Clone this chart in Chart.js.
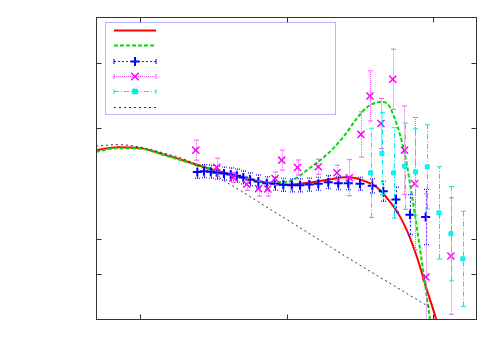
<!DOCTYPE html>
<html>
<head>
<meta charset="utf-8">
<script src="https://cdn.jsdelivr.net/npm/chart.js@4/dist/chart.umd.min.js"></script>
<style>
  html, body { margin: 0; padding: 0; background: #fff; }
  #wrap { width: 500px; height: 350px; }
</style>
</head>
<body>
<div id="wrap"><canvas id="myChart"></canvas></div>
<script>
// tick positions (log x, linear y) - labels are not shown in the original
const xTicks = [1, 10, 100];
const yTicks = [4.6, 8.1, 19.1, 25.6];

// smooth curves, all sampled on the same x grid
const curveX = [0.5, 0.7, 1, 1.5, 2, 3, 4, 5, 7, 10, 15, 20, 25, 30, 35, 40, 45, 50, 55, 60, 65, 70, 75, 80, 85, 90, 95, 100, 110];
const redY = [16.93, 17.23, 17.13, 16.43, 15.88, 15.08, 14.58, 14.23, 13.73, 13.48, 13.73, 14.03, 14.23, 14.13, 13.78, 13.38, 12.73, 11.93, 11.13, 10.23, 9.23, 8.13, 6.93, 5.73, 4.43, 3.23, 2.13, 1.13, -0.87];
const greenY = [16.78, 17.13, 17.08, 16.38, 15.83, 15.03, 14.53, 14.18, 13.73, 13.78, 15.33, 16.83, 18.43, 20.03, 21.13, 21.63, 21.73, 21.38, 20.03, 18.33, 16.23, 13.43, 10.73, 7.93, 5.33, 2.73, 0.23, -2.07, -6.57];
const blackY = [17.33, 17.48, 17.23, 16.58, 16.03, 14.78, 13.63, 12.78, 11.43, 10.03, 8.43, 7.28, 6.38, 5.68, 5.09, 4.58, 4.13, 3.73, 3.36, 3.03, 2.73, 2.43, 2.18, 1.93, 1.70, 1.48, 1.28, 1.03, null];

// points with error bars
const blueX = [2.46, 2.73, 3.04, 3.37, 3.74, 4.16, 4.57, 5.07, 5.63, 6.42, 7.33, 8.35, 9.51, 10.85, 12.37, 14.31, 16.49, 19.29, 22.57, 26.42, 31.75, 38.52, 45.79, 55.90, 69.66, 89.18];
const blueY = [14.76, 14.83, 14.78, 14.68, 14.60, 14.51, 14.38, 14.21, 14.01, 13.81, 13.63, 13.58, 13.48, 13.43, 13.43, 13.50, 13.58, 13.73, 13.63, 13.63, 13.58, 13.38, 12.83, 12.00, 10.50, 10.26];
const blueErr = [0.65, 0.65, 0.65, 0.65, 0.65, 0.65, 0.65, 0.65, 0.65, 0.65, 0.65, 0.65, 0.65, 0.65, 0.65, 0.65, 0.65, 0.65, 0.65, 0.65, 0.65, 0.7, 1.0, 1.25, 2.0, 2.75];

const magX = [2.40, 3.34, 4.33, 5.35, 6.44, 7.44, 8.35, 9.27, 11.89, 16.49, 22.12, 26.84, 32.25, 37.15, 44.17, 53.16, 63.90, 75.01, 89.6, 132.7];
const magY = [16.93, 15.23, 14.21, 13.53, 13.10, 13.06, 14.10, 15.93, 15.20, 15.28, 14.68, 14.18, 18.50, 22.33, 19.58, 24.00, 16.93, 13.58, 4.28, 6.38];
const magErr = [1.0, 0.9, 0.5, 0.6, 0.75, 0.7, 0.65, 1.0, 0.75, 0.75, 0.75, 1.8, 2.25, 2.5, 2.5, 3.0, 4.4, 6.6, 8.3, 5.8];

const cyanX = [37.56, 44.87, 53.91, 64.09, 75.93, 91.44, 109.9, 132.7, 160.2];
const cyanY = [14.66, 16.60, 14.66, 15.33, 14.76, 15.26, 10.68, 8.60, 6.10];
const cyanErr = [4.45, 4.1, 4.5, 4.3, 4.3, 4.2, 4.6, 4.7, 4.75];

function pts(xs, ys) {
  return xs.map((x, i) => ({ x: x, y: ys[i] }));
}

function drawMark(ctx, style, x, y, r, color, lw) {
  ctx.save();
  ctx.setLineDash([]);
  ctx.strokeStyle = color;
  ctx.fillStyle = color;
  ctx.lineWidth = lw;
  ctx.beginPath();
  if (style === 'cross') {
    ctx.moveTo(x - r, y); ctx.lineTo(x + r, y);
    ctx.moveTo(x, y - r); ctx.lineTo(x, y + r);
    ctx.stroke();
  } else if (style === 'crossRot') {
    const d = r * 0.75;
    ctx.moveTo(x - d, y - d); ctx.lineTo(x + d, y + d);
    ctx.moveTo(x - d, y + d); ctx.lineTo(x + d, y - d);
    ctx.stroke();
  } else if (style === 'rect') {
    ctx.fillRect(x - r, y - r, 2 * r, 2 * r);
  }
  ctx.restore();
}

const gnuplotLook = {
  id: 'gnuplotLook',
  beforeDatasetDraw(chart, args) {
    const ds = chart.data.datasets[args.index];
    if (!ds.errorBars) return;
    const ctx = chart.ctx, ca = chart.chartArea;
    const xs = chart.scales.x, ys = chart.scales.y;
    ctx.save();
    ctx.beginPath();
    ctx.rect(ca.left, ca.top, ca.right - ca.left, ca.bottom - ca.top);
    ctx.clip();
    ctx.strokeStyle = ds.errColor;
    ctx.lineWidth = ds.errWidth;
    ds.data.forEach((p, i) => {
      const e = ds.errorBars[i];
      const px = Math.round(xs.getPixelForValue(p.x)) + 0.5;
      const y1 = ys.getPixelForValue(p.y - e);
      const y2 = ys.getPixelForValue(p.y + e);
      ctx.setLineDash(ds.errDash);
      ctx.beginPath();
      ctx.moveTo(px, y1); ctx.lineTo(px, y2);
      ctx.stroke();
      ctx.setLineDash(ds.capDash || []);
      ctx.beginPath();
      ctx.moveTo(px - 2.5, y1); ctx.lineTo(px + 2.5, y1);
      ctx.moveTo(px - 2.5, y2); ctx.lineTo(px + 2.5, y2);
      ctx.stroke();
    });
    ctx.restore();
  },
  afterDatasetsDraw(chart) {
    const ctx = chart.ctx, ca = chart.chartArea;
    const xs = chart.scales.x, ys = chart.scales.y;
    const L = ca.left + 0.5, R = ca.right - 0.5, T = ca.top + 0.5, B = ca.bottom - 0.5;
    const tl = 5;
    ctx.save();
    ctx.strokeStyle = '#333';
    ctx.lineWidth = 1;
    ctx.setLineDash([]);
    ctx.strokeRect(L, T, R - L, B - T);
    ctx.beginPath();
    xTicks.forEach(v => {
      const px = Math.round(xs.getPixelForValue(v)) + 0.5;
      ctx.moveTo(px, B); ctx.lineTo(px, B - tl);
      ctx.moveTo(px, T); ctx.lineTo(px, T + tl);
    });
    yTicks.forEach(v => {
      const py = Math.round(ys.getPixelForValue(v)) + 0.5;
      ctx.moveTo(L, py); ctx.lineTo(L + tl, py);
      ctx.moveTo(R, py); ctx.lineTo(R - tl, py);
    });
    ctx.stroke();

    // key box, no text in the original
    const bx = ca.left + 9, by = ca.top + 5, bw = 230, bh = 92;
    ctx.strokeStyle = '#6b6bff';
    ctx.setLineDash([1, 1]);
    ctx.strokeRect(bx + 0.5, by + 0.5, bw, bh);
    const x1 = bx + 9, x2 = bx + 51, xm = (x1 + x2) / 2;
    chart.data.datasets.forEach((ds, i) => {
      const y = Math.round(by + 8 + i * 15.33) + 0.5;
      ctx.save();
      if (ds.errorBars) {
        ctx.strokeStyle = ds.errColor;
        ctx.lineWidth = ds.errWidth;
        ctx.setLineDash(ds.errDash);
        ctx.beginPath(); ctx.moveTo(x1, y); ctx.lineTo(x2, y); ctx.stroke();
        ctx.setLineDash([]);
        ctx.beginPath();
        ctx.moveTo(x1, y - 2.5); ctx.lineTo(x1, y + 2.5);
        ctx.moveTo(x2, y - 2.5); ctx.lineTo(x2, y + 2.5);
        ctx.stroke();
        drawMark(ctx, ds.pointStyle, xm, y, ds.pointRadius, ds.pointBorderColor, ds.pointBorderWidth);
      } else {
        ctx.strokeStyle = ds.borderColor;
        ctx.lineWidth = ds.borderWidth;
        ctx.setLineDash(ds.borderDash || []);
        ctx.beginPath(); ctx.moveTo(x1, y); ctx.lineTo(x2, y); ctx.stroke();
      }
      ctx.restore();
    });
    ctx.restore();
  }
};

const ctx = document.getElementById('myChart');

new Chart(ctx, {
  type: 'line',
  data: {
    datasets: [
      {
        data: pts(curveX, redY),
        borderColor: '#ff0000',
        borderWidth: 2,
        pointRadius: 0,
        cubicInterpolationMode: 'monotone',
        order: 6
      },
      {
        data: pts(curveX, greenY),
        borderColor: '#00dd00',
        borderWidth: 2,
        borderDash: [4, 2],
        pointRadius: 0,
        cubicInterpolationMode: 'monotone',
        order: 5
      },
      {
        data: pts(blueX, blueY),
        showLine: false,
        pointStyle: 'cross',
        pointRadius: 4.5,
        pointBorderWidth: 2,
        pointBorderColor: '#0000ff',
        pointBackgroundColor: '#0000ff',
        errorBars: blueErr,
        errColor: '#2020ff',
        errWidth: 1.2,
        errDash: [2, 2],
        capDash: [1, 1],
        order: 4
      },
      {
        data: pts(magX, magY),
        showLine: false,
        pointStyle: 'crossRot',
        pointRadius: 5,
        pointBorderWidth: 1.5,
        pointBorderColor: '#ff00ff',
        pointBackgroundColor: '#ff00ff',
        errorBars: magErr,
        errColor: '#ff50ff',
        errWidth: 1,
        errDash: [1, 1],
        order: 3
      },
      {
        data: pts(cyanX, cyanY),
        showLine: false,
        pointStyle: 'rect',
        pointRadius: 2.8,
        pointBorderWidth: 1,
        pointBorderColor: '#00e8e8',
        pointBackgroundColor: '#00ffff',
        errorBars: cyanErr,
        errColor: '#00e8e8',
        errWidth: 1,
        errDash: [5, 2, 1, 2],
        order: 2
      },
      {
        data: pts(curveX, blackY),
        borderColor: '#333',
        borderWidth: 1,
        borderDash: [2, 3],
        pointRadius: 0,
        cubicInterpolationMode: 'monotone',
        order: 1
      }
    ]
  },
  options: {
    responsive: true,
    maintainAspectRatio: false,
    animation: false,
    layout: { padding: { left: 96, right: 23, top: 17, bottom: 30 } },
    plugins: { legend: { display: false }, tooltip: { enabled: false } },
    scales: {
      x: { type: 'logarithmic', min: 0.5, max: 200, display: false },
      y: { type: 'linear', min: 0, max: 30.2, display: false }
    }
  },
  plugins: [gnuplotLook]
});
</script>
</body>
</html>
